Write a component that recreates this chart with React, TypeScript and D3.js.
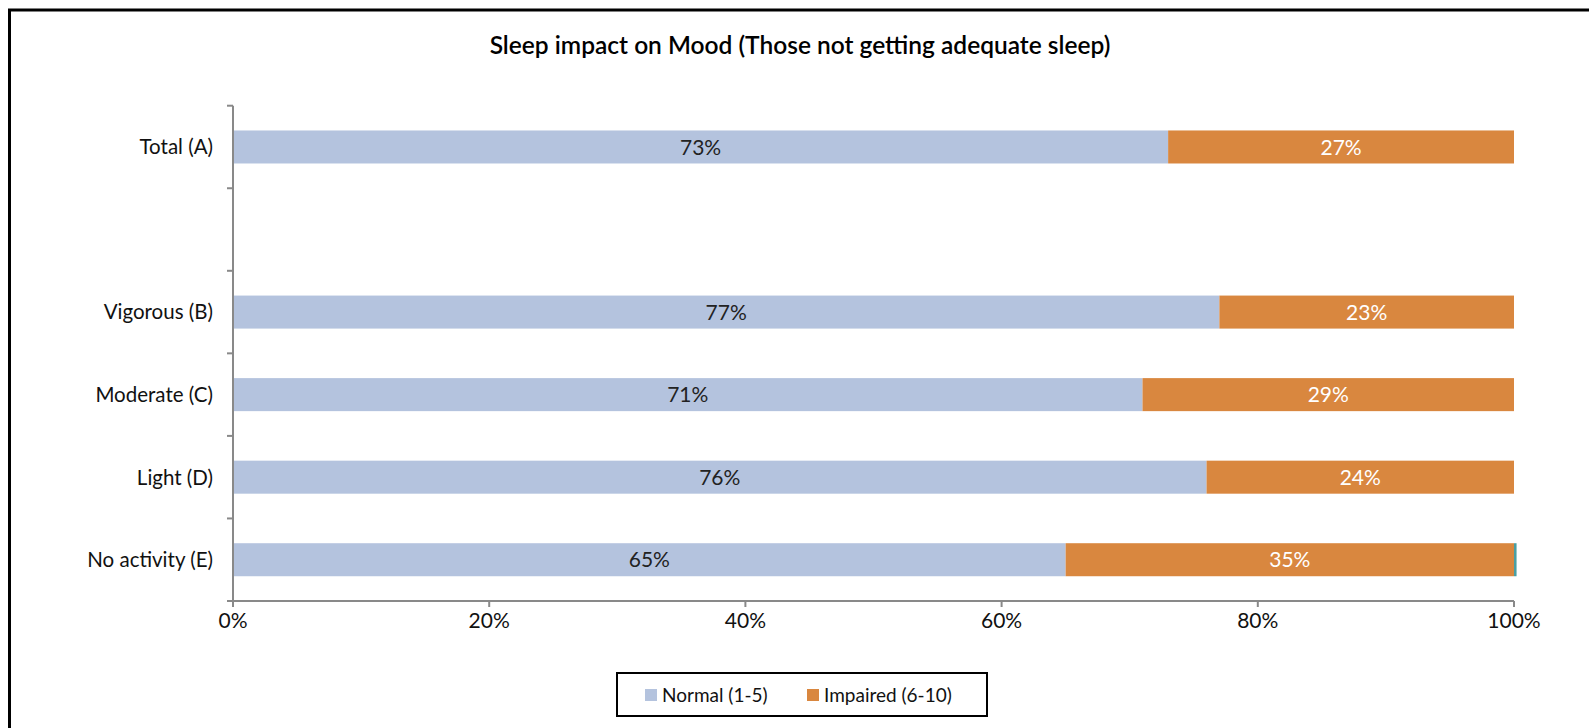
import { useMemo } from 'react'
import * as d3 from 'd3'

// chart data
const categories = ['Total (A)', '', 'Vigorous (B)', 'Moderate (C)', 'Light (D)', 'No activity (E)']
const normalValues = [73, null, 77, 71, 76, 65]
const impairedValues = [27, null, 23, 29, 24, 35]
const otherValues = [0, null, 0, 0, 0, 0.2]
const seriesNames = ['Normal (1-5)', 'Impaired (6-10)']
const xTicks = [0, 20, 40, 60, 80, 100]

const colors = ['#b4c3de', '#d9873f', '#4a9fa3']
const labelColors = ['#222', '#fff']
const font = 'Lato, "Open Sans", sans-serif'

const W = 1589
const H = 728
const left = 233
const right = 1514
const top = 105.7
const bottom = 601

export default function App() {
    const x = d3.scaleLinear().domain([0, 100]).range([left, right])
    // blank category needs its own key in the band domain
    const keys = categories.map((c, i) => c + '#' + i)
    const y = d3.scaleBand().domain(keys).range([top, bottom]).paddingInner(0.6).paddingOuter(0.3)
    const step = y.step()

    const rows = useMemo(() => categories.map((c, i) => ({
        key: keys[i],
        normal: normalValues[i] ?? 0,
        impaired: impairedValues[i] ?? 0,
        other: otherValues[i] ?? 0,
        empty: normalValues[i] == null,
    })), [])

    const stack = d3.stack().keys(['normal', 'impaired', 'other'])
    const layers = stack(rows as any)

    const boundaries = d3.range(categories.length + 1).map(i => top + i * step)

    return (
        <div style={{ position: 'absolute', left: 0, top: 0 }}>
            <svg width={W} height={H} style={{ display: 'block', fontFamily: font }}>
                <rect x={0} y={0} width={W} height={H} fill="#fff" />
                {/* outer frame, runs off the right and bottom edges */}
                <rect x={9.5} y={10} width={W + 20} height={H + 20} fill="none" stroke="#000" strokeWidth={3} />

                <text x={800} y={54} textAnchor="middle" fontSize={24.5} fontWeight={600} fill="#000">
                    Sleep impact on Mood (Those not getting adequate sleep)
                </text>

                {/* bars */}
                {layers.map((layer, li) => (
                    <g key={layer.key}>
                        {layer.map((d, i) => rows[i].empty || d[1] - d[0] <= 0 ? null : (
                            <rect key={i}
                                  x={x(d[0])}
                                  y={y(rows[i].key)}
                                  width={x(d[1]) - x(d[0])}
                                  height={y.bandwidth()}
                                  fill={colors[li]} />
                        ))}
                    </g>
                ))}

                {/* data labels */}
                {layers.slice(0, 2).map((layer, li) => (
                    <g key={'lbl' + layer.key}>
                        {layer.map((d, i) => rows[i].empty ? null : (
                            <text key={i}
                                  x={(x(d[0]) + x(d[1])) / 2}
                                  y={(y(rows[i].key) as number) + y.bandwidth() / 2}
                                  dy="0.36em"
                                  textAnchor="middle"
                                  fontSize={21}
                                  fill={labelColors[li]}>
                                {Math.round(d[1] - d[0])}%
                            </text>
                        ))}
                    </g>
                ))}

                {/* y axis */}
                <line x1={left} x2={left} y1={top} y2={bottom} stroke="#898989" strokeWidth={2} />
                {boundaries.map((b, i) => (
                    <line key={i} x1={left - 6} x2={left} y1={b} y2={b} stroke="#898989" strokeWidth={2} />
                ))}
                {categories.map((c, i) => (
                    <text key={i} x={213} y={(y(keys[i]) as number) + y.bandwidth() / 2} dy="0.36em"
                          textAnchor="end" fontSize={20.5} fill="#111">{c}</text>
                ))}

                {/* x axis */}
                <line x1={left - 6} x2={right} y1={bottom} y2={bottom} stroke="#898989" strokeWidth={2} />
                {xTicks.map(t => (
                    <g key={t}>
                        <line x1={x(t)} x2={x(t)} y1={bottom} y2={bottom + 6} stroke="#898989" strokeWidth={2} />
                        <text x={x(t)} y={628} textAnchor="middle" fontSize={21} fill="#111">{t}%</text>
                    </g>
                ))}

                {/* legend */}
                <rect x={617} y={673} width={370} height={43} fill="#fff" stroke="#000" strokeWidth={2} />
                {seriesNames.map((s, i) => {
                    const lx = [645, 807][i]
                    return (
                        <g key={s}>
                            <rect x={lx} y={689} width={12} height={12} fill={colors[i]} />
                            <text x={lx + 17} y={702} fontSize={19} fill="#111">{s}</text>
                        </g>
                    )
                })}
            </svg>
        </div>
    )
}
